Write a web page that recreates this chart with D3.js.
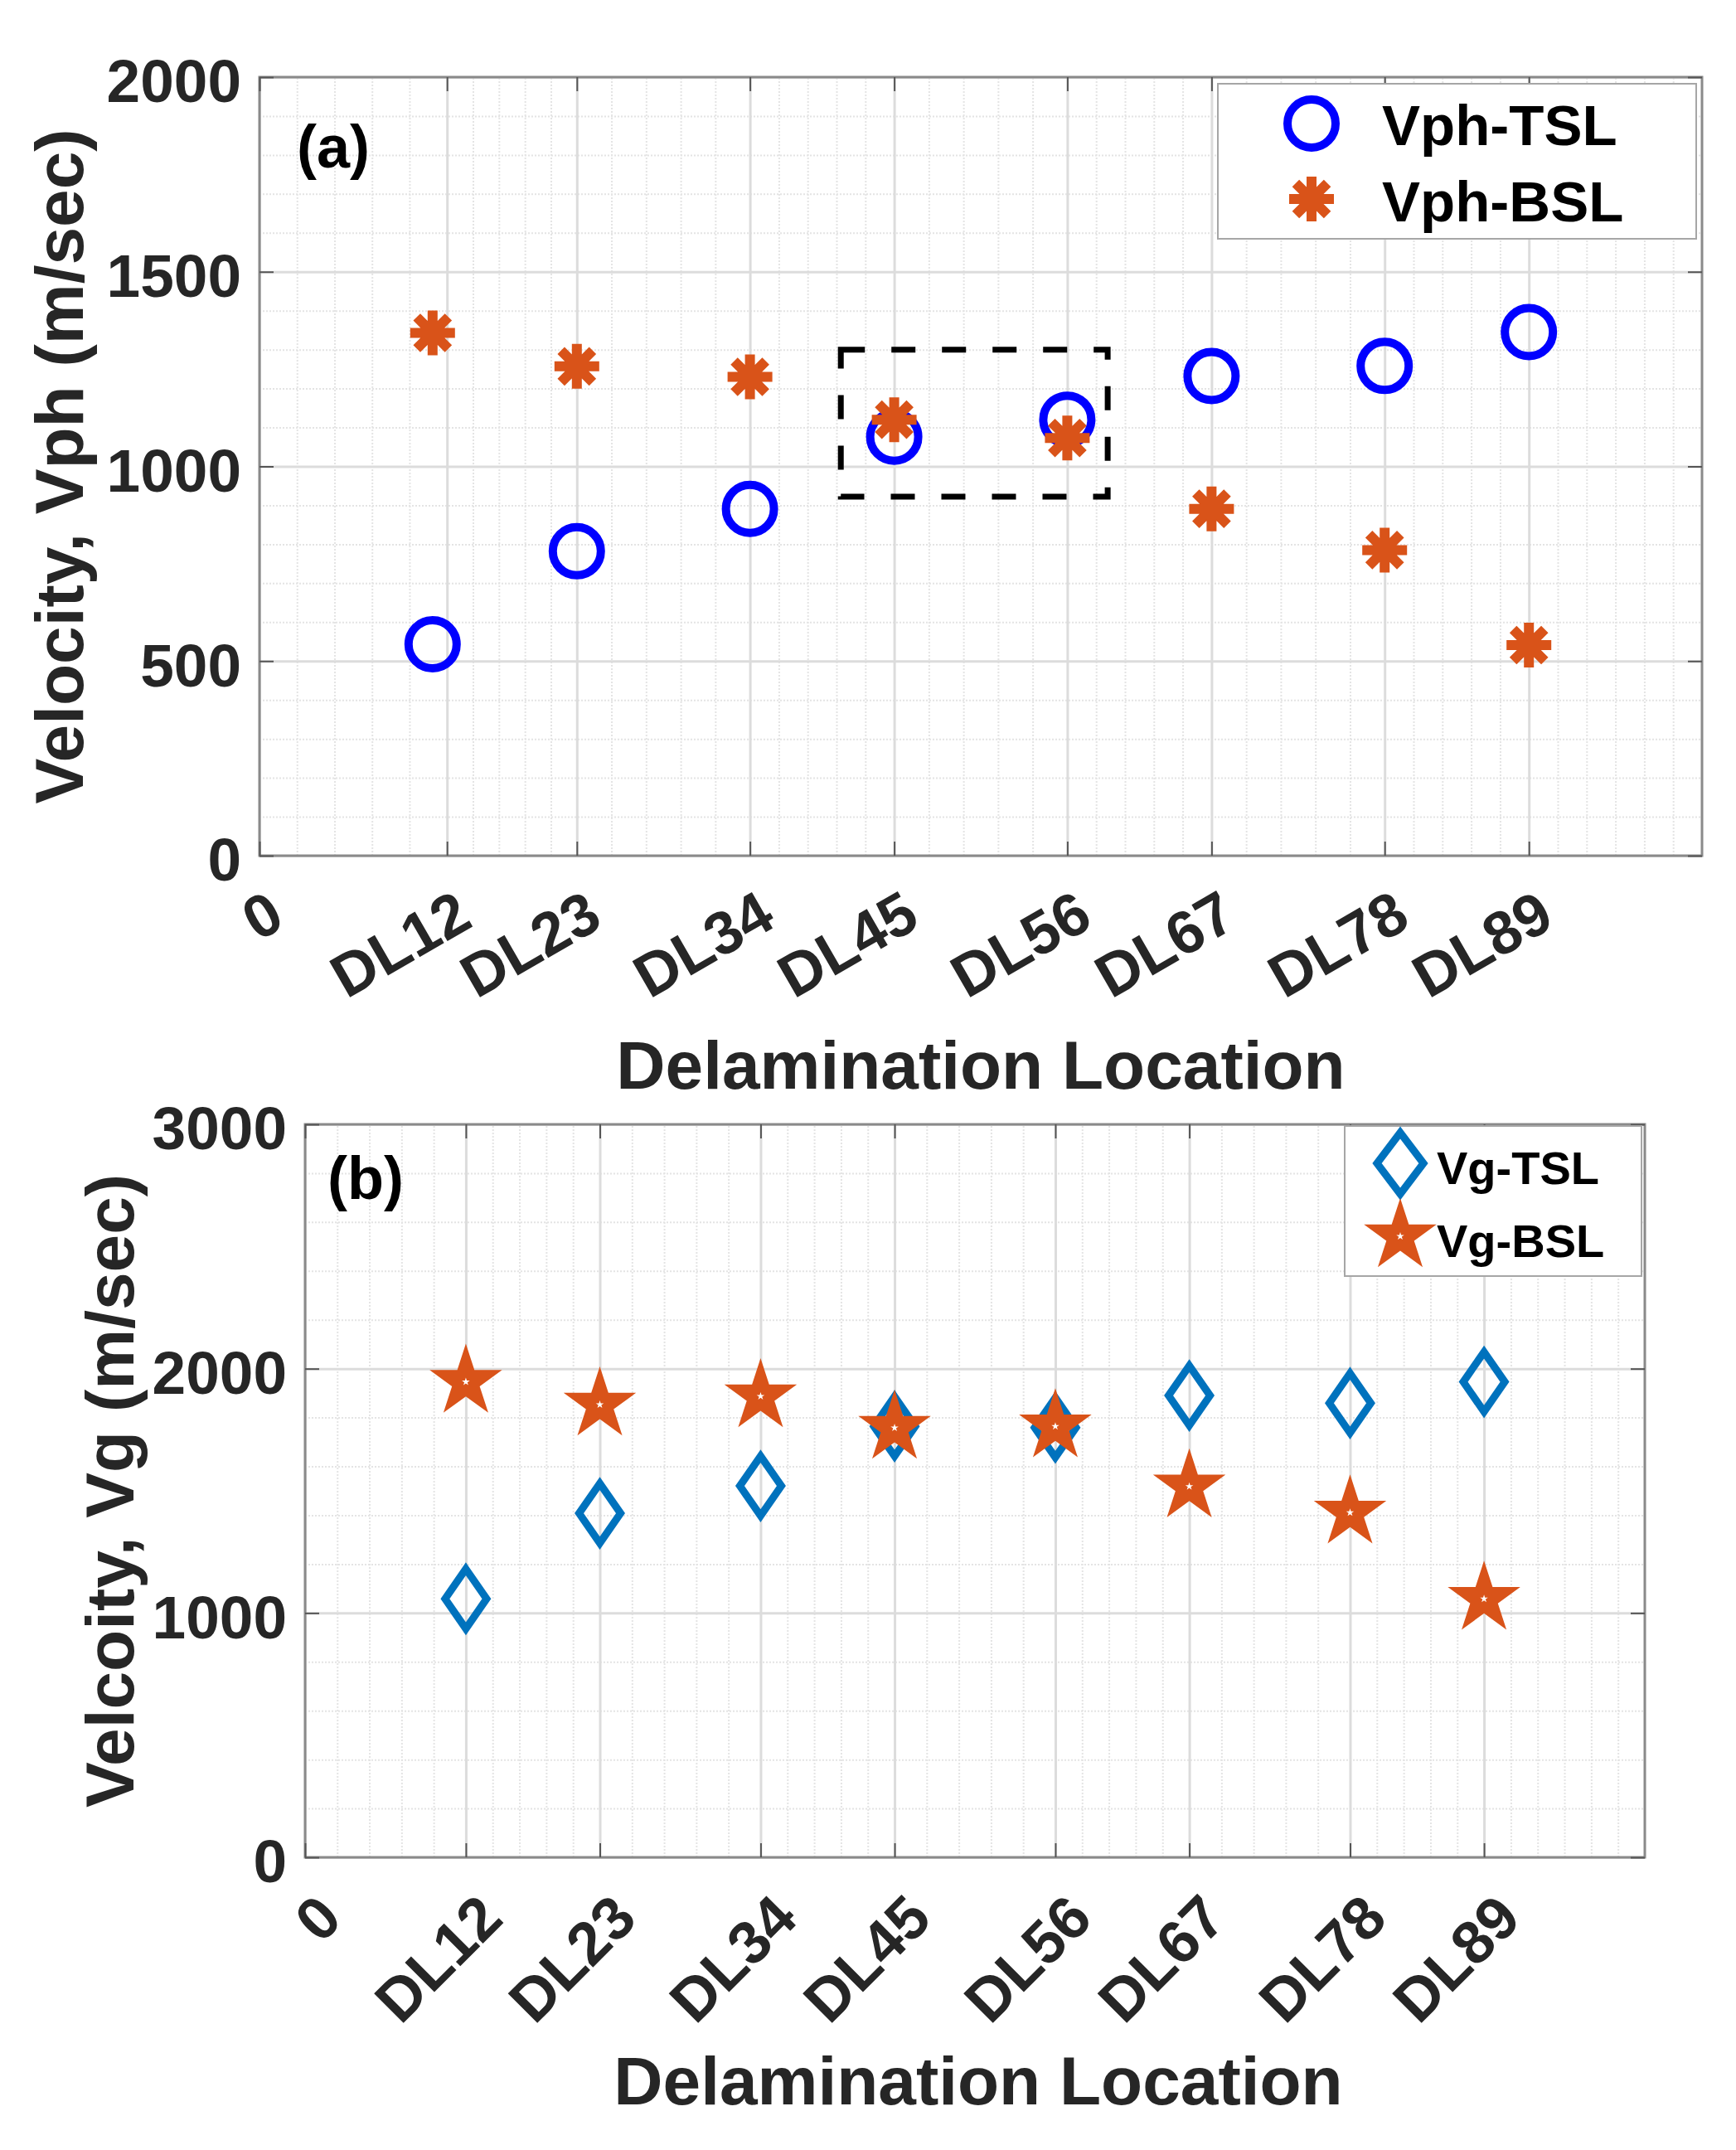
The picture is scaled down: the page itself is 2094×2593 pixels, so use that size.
<!DOCTYPE html>
<html lang="en">
<head>
<meta charset="UTF-8">
<title>Velocity vs Delamination Location</title>
<script src="https://d3js.org/d3.v7.min.js"></script>
<style>
  body { margin: 0; background: #fff; }
  svg { display: block; font-family: 'Liberation Sans', Arial, sans-serif; font-weight: bold; }
  .grid-major line { stroke: #dcdcdc; stroke-width: 3; }
  .grid-minor line { stroke: #e4e4e4; stroke-width: 2; stroke-dasharray: 2 2; }
  .ticks line { stroke: #555; stroke-width: 2; }
  .ticks text { fill: #262626; }
</style>
</head>
<body>
<div id="chart"></div>
<script>
  // x axis: delamination locations (position along the beam, 0..1000)
  const locationLabels = ["0", "DL12", "DL23", "DL34", "DL45", "DL56", "DL67", "DL78", "DL89"];
  const tickPosA = [0, 130, 220, 340, 440, 560, 660, 780, 880];
  const tickPosB = [0, 120, 220, 340, 440, 560, 660, 780, 880];
  const pointPos = [120, 220, 340, 440, 560, 660, 780, 880];

  // (a) phase velocity, m/sec
  const vphTSL = [543, 782, 891, 1076, 1120, 1232, 1258, 1345];
  const vphBSL = [1343, 1257, 1230, 1120, 1073, 891, 785, 541];
  const vphTicks = [0, 500, 1000, 1500, 2000];
  // highlighted region around DL45 / DL56: [x0, x1, y0, y1]
  const zoomBox = [403, 588, 922, 1300];

  // (b) group velocity, m/sec
  const vgTSL = [1058, 1408, 1520, 1764, 1759, 1890, 1859, 1946];
  const vgBSL = [1946, 1853, 1887, 1758, 1764, 1518, 1411, 1058];
  const vgTicks = [0, 1000, 2000, 3000];

  const width = 2094, height = 2593;
  const blue = "#0000ff", orange = "#d95319", matBlue = "#0072bd";

  const svg = d3.select("#chart").append("svg")
    .attr("width", width)
    .attr("height", height);
  svg.append("rect").attr("width", width).attr("height", height).attr("fill", "#fff");

  // custom marker shapes (size = half extent in px)
  const asterisk = {
    draw(ctx, r) {
      const d = r * Math.SQRT1_2;
      ctx.moveTo(-r, 0); ctx.lineTo(r, 0);
      ctx.moveTo(0, -r); ctx.lineTo(0, r);
      ctx.moveTo(-d, -d); ctx.lineTo(d, d);
      ctx.moveTo(-d, d); ctx.lineTo(d, -d);
    }
  };
  const pentagram = {
    draw(ctx, R) {
      const r = R * 0.382;
      for (let i = 0; i < 10; i++) {
        const rad = i % 2 ? r : R;
        const a = -Math.PI / 2 + i * Math.PI / 5;
        if (i === 0) ctx.moveTo(rad * Math.cos(a), rad * Math.sin(a));
        else ctx.lineTo(rad * Math.cos(a), rad * Math.sin(a));
      }
      ctx.closePath();
    }
  };
  function diamond(w, h) {
    return {
      draw(ctx) {
        ctx.moveTo(0, -h); ctx.lineTo(w, 0); ctx.lineTo(0, h); ctx.lineTo(-w, 0);
        ctx.closePath();
      }
    };
  }

  function addMarker(g, kind, cx, cy, opt = {}) {
    if (kind === "circle") {
      g.append("circle").attr("cx", cx).attr("cy", cy).attr("r", 29)
        .attr("fill", "none").attr("stroke", blue).attr("stroke-width", 10);
    } else if (kind === "asterisk") {
      g.append("path").attr("transform", `translate(${cx},${cy})`)
        .attr("d", d3.symbol().type(asterisk).size(27)())
        .attr("fill", "none").attr("stroke", orange).attr("stroke-width", 12);
    } else if (kind === "diamond") {
      g.append("path").attr("transform", `translate(${cx},${cy})`)
        .attr("d", d3.symbol().type(diamond(opt.w || 25, opt.h || 36))())
        .attr("fill", "none").attr("stroke", matBlue).attr("stroke-width", 9)
        .attr("stroke-linejoin", "miter").attr("stroke-miterlimit", 10);
    } else if (kind === "star") {
      g.append("path").attr("transform", `translate(${cx},${cy})`)
        .attr("d", d3.symbol().type(pentagram).size(46)())
        .attr("fill", orange);
      g.append("path").attr("transform", `translate(${cx},${cy})`)
        .attr("d", d3.symbol().type(pentagram).size(5)())
        .attr("fill", "#fff");
    }
  }

  function minorSteps(ticks, end) {
    const out = [];
    for (let i = 0; i < ticks.length - 1; i++) {
      const step = (ticks[i + 1] - ticks[i]) / 5;
      for (let k = 1; k < 5; k++) out.push(ticks[i] + k * step);
    }
    const last = ticks[ticks.length - 1];
    const step = (last - ticks[ticks.length - 2]) / 5;
    for (let v = last + step; v < end - 1e-6; v += step) out.push(v);
    return out;
  }

  function drawPanel(p) {
    const x = d3.scaleLinear().domain([0, 1000]).range([p.left, p.right]);
    const y = d3.scaleLinear().domain([0, p.yMax]).range([p.bottom, p.top]);
    const g = svg.append("g");
    const h = p.bottom - p.top, w = p.right - p.left;

    const yMinor = d3.range(0, p.yMax, p.yMinor).filter(v => !p.yTicks.includes(v));

    // grid
    g.append("g").attr("class", "grid-minor")
      .attr("transform", `translate(0,${p.bottom})`)
      .call(d3.axisBottom(x).tickValues(minorSteps(p.xTicks, 1000)).tickSize(-h).tickFormat(""))
      .call(a => a.select(".domain").remove());
    g.append("g").attr("class", "grid-minor")
      .attr("transform", `translate(${p.left},0)`)
      .call(d3.axisLeft(y).tickValues(yMinor).tickSize(-w).tickFormat(""))
      .call(a => a.select(".domain").remove());
    g.append("g").attr("class", "grid-major")
      .attr("transform", `translate(0,${p.bottom})`)
      .call(d3.axisBottom(x).tickValues(p.xTicks).tickSize(-h).tickFormat(""))
      .call(a => a.select(".domain").remove());
    g.append("g").attr("class", "grid-major")
      .attr("transform", `translate(${p.left},0)`)
      .call(d3.axisLeft(y).tickValues(p.yTicks).tickSize(-w).tickFormat(""))
      .call(a => a.select(".domain").remove());

    // frame
    g.append("rect").attr("x", p.left).attr("y", p.top).attr("width", w).attr("height", h)
      .attr("fill", "none").attr("stroke", "#8a8a8a").attr("stroke-width", 3);

    // axes with inward ticks
    g.append("g").attr("class", "ticks")
      .attr("transform", `translate(0,${p.bottom})`)
      .call(d3.axisBottom(x).tickValues(p.xTicks).tickSize(-17)
        .tickFormat((d, i) => locationLabels[i]))
      .call(a => a.select(".domain").remove())
      .call(a => a.selectAll("text")
        .attr("x", 0).attr("y", 0).attr("dy", null)
        .attr("text-anchor", "end")
        .attr("font-size", 73)
        .attr("transform", `translate(${p.lblDx},${p.lblDy}) rotate(${p.lblRot})`));
    g.append("g").attr("class", "ticks")
      .attr("transform", `translate(${p.left},0)`)
      .call(d3.axisLeft(y).tickValues(p.yTicks).tickSize(-17).tickPadding(22).tickFormat(d3.format("d")))
      .call(a => a.select(".domain").remove())
      .call(a => a.selectAll("text").attr("font-size", 73).attr("dy", "0.41em"));
    g.append("g").attr("class", "ticks")
      .attr("transform", `translate(0,${p.top})`)
      .call(d3.axisTop(x).tickValues(p.xTicks).tickSize(-17).tickFormat(""))
      .call(a => a.select(".domain").remove());
    g.append("g").attr("class", "ticks")
      .attr("transform", `translate(${p.right},0)`)
      .call(d3.axisRight(y).tickValues(p.yTicks).tickSize(-17).tickFormat(""))
      .call(a => a.select(".domain").remove());

    // titles
    g.append("text")
      .attr("transform", `translate(${p.yTitleX},${(p.top + p.bottom) / 2}) rotate(-90)`)
      .attr("text-anchor", "middle").attr("font-size", 82).attr("fill", "#262626")
      .text(p.yTitle);
    g.append("text")
      .attr("x", p.xTitleX).attr("y", p.xTitleY)
      .attr("text-anchor", "middle").attr("font-size", 82).attr("fill", "#262626")
      .text("Delamination Location");
    g.append("text")
      .attr("x", p.tagX).attr("y", p.tagY)
      .attr("font-size", 72).attr("fill", "#000")
      .text(p.tag);

    return { g, x, y };
  }

  // ---- panel (a)
  const a = drawPanel({
    left: 313, right: 2053, top: 93, bottom: 1032,
    yMax: 2000, yTicks: vphTicks, yMinor: 100, xTicks: tickPosA,
    lblDx: 33, lblDy: 84, lblRot: -30,
    yTitle: "Velocity, Vph (m/sec)", yTitleX: 100,
    xTitleX: 1183, xTitleY: 1313,
    tag: "(a)", tagX: 358, tagY: 202
  });

  a.g.append("rect")
    .attr("x", a.x(zoomBox[0])).attr("y", a.y(zoomBox[3]))
    .attr("width", a.x(zoomBox[1]) - a.x(zoomBox[0]))
    .attr("height", a.y(zoomBox[2]) - a.y(zoomBox[3]))
    .attr("fill", "none").attr("stroke", "#000").attr("stroke-width", 7)
    .attr("stroke-dasharray", "29 32");

  pointPos.forEach((p, i) => addMarker(a.g, "circle", a.x(p), a.y(vphTSL[i])));
  pointPos.forEach((p, i) => addMarker(a.g, "asterisk", a.x(p), a.y(vphBSL[i])));

  const legA = a.g.append("g");
  legA.append("rect").attr("x", 1469).attr("y", 101).attr("width", 577).attr("height", 187)
    .attr("fill", "#fff").attr("stroke", "#a6a6a6").attr("stroke-width", 2);
  addMarker(legA, "circle", 1582, 149);
  addMarker(legA, "asterisk", 1582, 240);
  legA.append("text").attr("x", 1667).attr("y", 175).attr("font-size", 69).attr("fill", "#000").text("Vph-TSL");
  legA.append("text").attr("x", 1667).attr("y", 267).attr("font-size", 69).attr("fill", "#000").text("Vph-BSL");

  // ---- panel (b)
  const b = drawPanel({
    left: 368, right: 1984, top: 1356, bottom: 2240,
    yMax: 3000, yTicks: vgTicks, yMinor: 200, xTicks: tickPosB,
    lblDx: 47, lblDy: 77, lblRot: -45,
    yTitle: "Velcoity, Vg (m/sec)", yTitleX: 161,
    xTitleX: 1180, xTitleY: 2538,
    tag: "(b)", tagX: 395, tagY: 1446
  });

  pointPos.forEach((p, i) => addMarker(b.g, "diamond", b.x(p), b.y(vgTSL[i])));
  pointPos.forEach((p, i) => addMarker(b.g, "star", b.x(p), b.y(vgBSL[i])));

  const legB = b.g.append("g");
  legB.append("rect").attr("x", 1622).attr("y", 1358).attr("width", 358).attr("height", 181)
    .attr("fill", "#fff").attr("stroke", "#a6a6a6").attr("stroke-width", 2);
  addMarker(legB, "diamond", 1689, 1403, { w: 28, h: 37 });
  addMarker(legB, "star", 1689, 1491);
  legB.append("text").attr("x", 1733).attr("y", 1428).attr("font-size", 56).attr("fill", "#000").text("Vg-TSL");
  legB.append("text").attr("x", 1733).attr("y", 1516).attr("font-size", 56).attr("fill", "#000").text("Vg-BSL");
</script>
</body>
</html>
